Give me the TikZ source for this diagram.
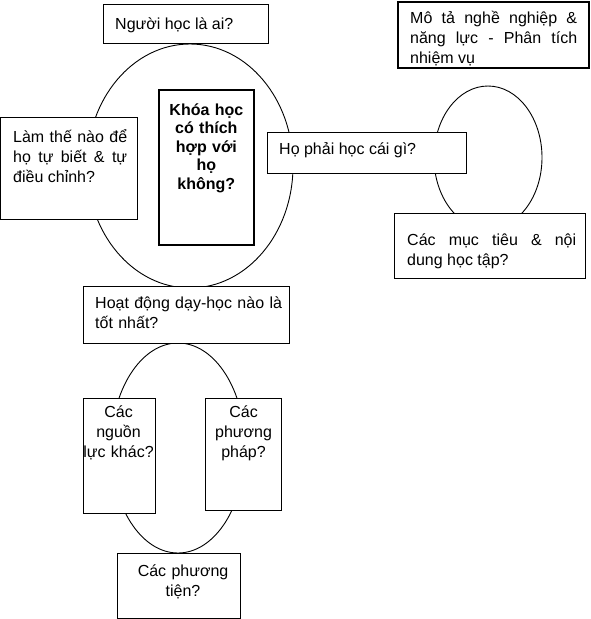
\documentclass[tikz,border=0pt]{standalone}
\usepackage{fontspec}
\setmainfont{Liberation Sans}
\begin{document}
\begin{tikzpicture}[x=1pt, y=-1pt,
    box/.style={draw, fill=white, line width=1.1pt, inner sep=0pt, anchor=north west},
    thickbox/.style={box, line width=1.7pt},
    txt/.style={inner sep=0pt, font=\fontsize{16}{20}\selectfont},
    loop/.style={draw, line width=0.9pt}]
    \useasboundingbox (0,0) rectangle (590,619);
    \path[loop] (190,166) ellipse [x radius=103, y radius=122];
    \path[loop] (488,157.5) ellipse [x radius=54, y radius=71.5];
    \path[loop] (178,448) ellipse [x radius=67, y radius=105];
    \node[box,      minimum width=165pt, minimum height=39pt]  (who)  at (103,4)   {};
    \node[box,      minimum width=137pt, minimum height=102pt] (how)  at (0,117)   {};
    \node[thickbox, minimum width=95pt,  minimum height=155pt] (fit)  at (158,89)  {};
    \node[box,      minimum width=199pt, minimum height=41pt]  (what) at (267,132) {};
    \node[thickbox, minimum width=191pt, minimum height=66pt]  (job)  at (397,1)   {};
    \node[box,      minimum width=191pt, minimum height=65pt]  (goal) at (394,213) {};
    \node[box,      minimum width=206pt, minimum height=57pt]  (act)  at (83,286)  {};
    \node[box,      minimum width=72pt,  minimum height=115pt] (res)  at (83,398)  {};
    \node[box,      minimum width=76pt,  minimum height=112pt] (meth) at (205,398) {};
    \node[box,      minimum width=123pt, minimum height=65pt]  (aids) at (117,553) {};
    \node[txt, anchor=base west] (whotxt) at ([xshift=12pt, yshift=-25pt]who.north west) {Người học là ai?};
    \node[txt, anchor=base west, text width=114pt, align=justify] (howtxt) at ([xshift=13pt, yshift=-25pt]how.north west)
        {Làm thế nào để\linebreak họ tự biết \& tự\linebreak điều chỉnh?};
    \node[txt, anchor=base, text width=95pt, align=center, font=\fontsize{16}{18.5}\selectfont\bfseries] (fittxt) at ([yshift=-26pt]fit.north)
        {Khóa học\\có thích\\hợp với\\họ\\không?};
    \node[txt, anchor=base west] (whattxt) at ([xshift=12pt, yshift=-22pt]what.north west) {Họ phải học cái gì?};
    \node[txt, anchor=base west, text width=167pt, align=justify] (jobtxt) at ([xshift=13pt, yshift=-22pt]job.north west)
        {Mô tả nghề nghiệp \&\linebreak năng lực - Phân tích\linebreak nhiệm vụ};
    \node[txt, anchor=base west, text width=169pt, align=justify] (goaltxt) at ([xshift=13pt, yshift=-32pt]goal.north west)
        {Các mục tiêu \& nội\linebreak dung học tập?};
    \node[txt, anchor=base west, text width=190pt, align=left] (acttxt) at ([xshift=12pt, yshift=-22pt]act.north west)
        {Hoạt động dạy-học nào là\\tốt nhất?};
    \node[txt, anchor=base, text width=72pt, align=center] (restxt) at ([xshift=-1pt, yshift=-19pt]res.north)
        {Các\\nguồn\\lực khác?};
    \node[txt, anchor=base, text width=76pt, align=center] (methtxt) at ([yshift=-19pt]meth.north)
        {Các\\phương\\pháp?};
    \node[txt, anchor=base, text width=123pt, align=center] (aidstxt) at ([xshift=4pt, yshift=-23pt]aids.north)
        {Các phương\\tiện?};
\end{tikzpicture}
\end{document}
